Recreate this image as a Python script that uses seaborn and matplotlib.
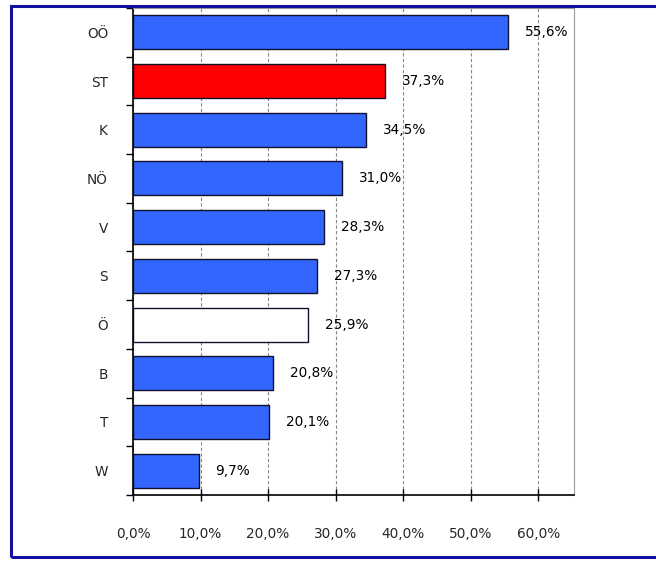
import matplotlib
matplotlib.use("Agg")
import matplotlib.pyplot as plt
from matplotlib.patches import Rectangle
from matplotlib.ticker import FixedLocator
import seaborn as sns
import pandas as pd

# data
regions = ['OÖ', 'ST', 'K', 'NÖ', 'V', 'S', 'Ö', 'B', 'T', 'W']
values = [55.6, 37.3, 34.5, 31.0, 28.3, 27.3, 25.9, 20.8, 20.1, 9.7]
colors = ['#3366FF', '#FF0000', '#3366FF', '#3366FF', '#3366FF',
          '#3366FF', '#FFFFFF', '#3366FF', '#3366FF', '#3366FF']
xticks = [0, 10, 20, 30, 40, 50, 60]

df = pd.DataFrame({'region': regions, 'value': values})

sns.set_style('white')
plt.rcParams['font.family'] = ['DejaVu Sans']

fig = plt.figure(figsize=(6.56, 5.61), dpi=100)
ax = fig.add_axes([133 / 656, 1 - 495 / 561, (574 - 133) / 656, (495 - 8) / 561])

sns.barplot(data=df, y='region', x='value', hue='region', palette=colors,
            legend=False, width=0.7, edgecolor='#101030', linewidth=1.0,
            saturation=1, ax=ax)

for i, v in enumerate(values):
    ax.text(v + 2.5, i, f'{v:.1f}%'.replace('.', ','), va='center', ha='left',
            fontsize=9.8, color='black')

ax.set_xlim(0, 65.3)
ax.set_ylim(len(regions) - 0.5, -0.5)
ax.set_xticks(xticks)
ax.set_xticklabels([f'{t:.1f}%'.replace('.', ',') for t in xticks], fontsize=9.8)
ax.set_xlabel('')
ax.set_ylabel('')
ax.tick_params(axis='y', which='major', length=0, pad=18, labelsize=9.8)
ax.yaxis.set_minor_locator(FixedLocator([i + 0.5 for i in range(-1, len(regions))]))
ax.tick_params(axis='y', which='minor', length=5, width=1, color='black', direction='out', left=True)
ax.tick_params(axis='x', which='major', length=8, width=1, color='black', direction='inout', pad=19, bottom=True)

ax.xaxis.grid(True, linestyle=(0, (3, 2)), color='#888888', linewidth=0.8)
ax.set_axisbelow(True)
for s in ['top', 'right']:
    ax.spines[s].set_color('#999999')
    ax.spines[s].set_linewidth(0.8)
for s in ['left', 'bottom']:
    ax.spines[s].set_color('black')
    ax.spines[s].set_linewidth(1.2)

# outer blue frame
fig.patches.append(Rectangle((11 / 656, 1 - 557 / 561), (680 - 11) / 656, (557 - 6) / 561,
                             transform=fig.transFigure, fill=False,
                             edgecolor='#1010A0', linewidth=2.2))

fig.savefig('out.png', dpi=100)
